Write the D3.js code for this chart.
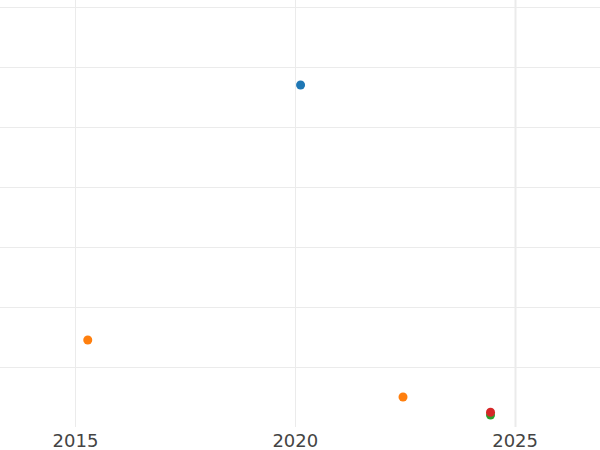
<!DOCTYPE html>
<html>
<head>
<meta charset="utf-8">
<script src="https://cdn.jsdelivr.net/npm/d3@7"></script>
<style>
  body { margin: 0; background: #fff; }
  svg { display: block; font-family: "DejaVu Sans", sans-serif; }
</style>
</head>
<body>
<div id="vis"></div>
<script>
// data
const years = [2020.12, 2015.28, 2022.45, 2024.44, 2024.44]
const values = [57.0, 14.5, 5.0, 2.0, 2.45]
const series = ['blue', 'orange', 'orange', 'green', 'red']
const xTicks = [2015, 2020, 2025]
const yTicks = [10, 20, 30, 40, 50, 60, 70]

const colorOf = { blue: '#1f77b4', orange: '#ff7f0e', green: '#2ca02c', red: '#d62728' }

const W = 600, H = 450
const plotBottom = 427

const x = d3.scaleLinear().domain([2013.284, 2026.93]).range([0, W])
const y = d3.scaleLinear().domain([0, 70]).range([plotBottom, 7])

const svg = d3.select('#vis').append('svg')
  .attr('width', W)
  .attr('height', H)

// horizontal grid
svg.append('g')
  .selectAll('line')
  .data(yTicks)
  .join('line')
  .attr('x1', 0).attr('x2', W)
  .attr('y1', d => Math.round(y(d)) + 0.5)
  .attr('y2', d => Math.round(y(d)) + 0.5)
  .attr('stroke', '#ebebeb')
  .attr('stroke-width', 1)

// vertical grid, the last one is heavier
svg.append('g')
  .selectAll('line')
  .data(xTicks)
  .join('line')
  .attr('x1', d => Math.round(x(d)) + 0.5)
  .attr('x2', d => Math.round(x(d)) + 0.5)
  .attr('y1', 0).attr('y2', plotBottom)
  .attr('stroke', '#ebebeb')
  .attr('stroke-width', (d, i) => i === xTicks.length - 1 ? 2 : 1)

// x tick labels
svg.append('g')
  .selectAll('text')
  .data(xTicks)
  .join('text')
  .attr('x', d => x(d))
  .attr('y', 447)
  .attr('text-anchor', 'middle')
  .attr('font-size', 18)
  .attr('fill', '#444')
  .text(d => d)

// points
const pts = years.map((yr, i) => ({ yr, v: values[i], s: series[i] }))
svg.append('g')
  .selectAll('circle')
  .data(pts)
  .join('circle')
  .attr('cx', d => x(d.yr))
  .attr('cy', d => y(d.v))
  .attr('r', 4.5)
  .attr('fill', d => colorOf[d.s])
</script>
</body>
</html>
